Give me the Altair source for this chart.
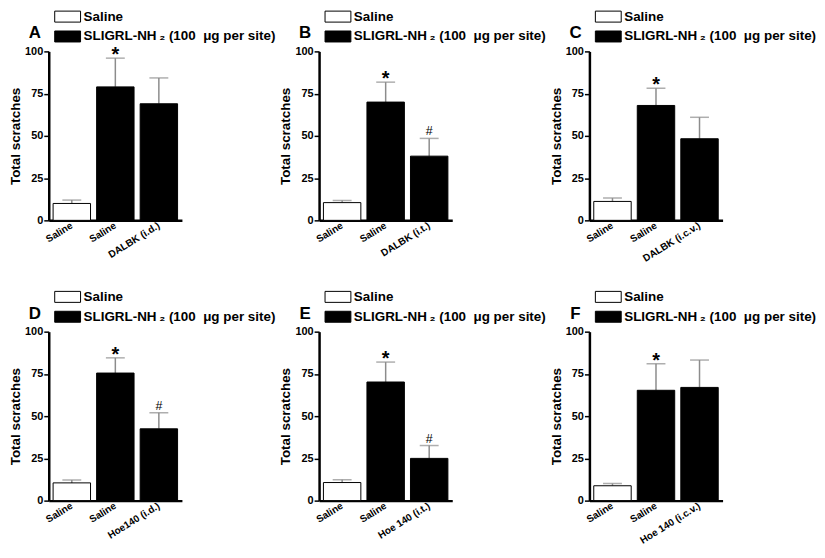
import altair as alt
import pandas as pd

FONT = "Liberation Sans"
SALINE = "Saline"
SLIG = "SLIGRL-NH\u2009\u2082 (100\u00a0 \u03bcg per site)"

panel_letters = ["A", "B", "C", "D", "E", "F"]
x_labels = [
    ["Saline", "Saline", "DALBK (i.d.)"],
    ["Saline", "Saline", "DALBK (i.t.)"],
    ["Saline", "Saline", "DALBK (i.c.v.)"],
    ["Saline", "Saline", "Hoe140 (i.d.)"],
    ["Saline", "Saline", "Hoe 140 (i.t.)"],
    ["Saline", "Saline", "Hoe 140 (i.c.v.)"],
]
means = [
    [10.0, 79.0, 69.0],
    [10.5, 70.0, 38.0],
    [11.2, 68.0, 48.3],
    [10.5, 75.5, 42.5],
    [10.7, 70.2, 25.0],
    [8.8, 65.3, 67.0],
]
upper = [
    [12.0, 96.0, 84.3],
    [11.8, 81.8, 48.5],
    [13.2, 78.2, 61.0],
    [12.2, 84.5, 52.0],
    [12.3, 82.0, 32.6],
    [10.1, 81.0, 83.2],
]
sig = [
    ["", "*", ""],
    ["", "*", "#"],
    ["", "*", ""],
    ["", "*", "#"],
    ["", "*", "#"],
    ["", "*", ""],
]
treat = [SALINE, SLIG, SLIG]
keys = ["0", "1", "2"]

ERR = "#8c8c8c"


def label_expr(labels):
    return (f"datum.value == '0' ? '{labels[0]}' : "
            f"datum.value == '1' ? '{labels[1]}' : '{labels[2]}'")


def panel(i):
    df = pd.DataFrame({
        "key": keys,
        "mean": means[i],
        "upper": upper[i],
        "treat": treat,
        "sig": sig[i],
    })
    base = alt.Chart(df)
    x = alt.X(
        "key:N", sort=None,
        scale=alt.Scale(paddingInner=0.14, paddingOuter=0.1),
        axis=alt.Axis(
            title=None, labelExpr=label_expr(x_labels[i]), labelAngle=-32,
            labelAlign="right", labelBaseline="middle", labelPadding=4,
            ticks=False, domainWidth=2.5, domainColor="black",
            labelFontSize=10, labelFontWeight="bold", labelColor="black",
            labelFont=FONT,
        ),
    )
    y = alt.Y(
        "mean:Q",
        scale=alt.Scale(domain=[0, 100]),
        axis=alt.Axis(
            values=[0, 25, 50, 75, 100], title="Total scratches", grid=False,
            domainWidth=2.5, domainColor="black", tickColor="black",
            tickWidth=1.5, tickSize=5, labelFontSize=11, labelFontWeight="bold",
            labelColor="black", labelPadding=1, labelFont=FONT,
            titleFontSize=13.5, titleFontWeight="bold", titleColor="black",
            titlePadding=2, titleFont=FONT,
        ),
    )
    err = base.mark_rule(color=ERR, strokeWidth=1.5).encode(
        x=x, y="mean:Q", y2="upper:Q")
    cap = base.mark_tick(color=ERR, thickness=1.5, size=19).encode(
        x=x, y="upper:Q")
    bars = base.mark_bar(stroke="black", strokeWidth=1).encode(
        x=x, y=y,
        fill=alt.Fill(
            "treat:N",
            scale=alt.Scale(domain=[SALINE, SLIG], range=["white", "black"]),
            legend=alt.Legend(
                title=None, orient="none", legendX=12, legendY=-42,
                symbolType="M-2,-0.85H2V0.85H-2Z", symbolSize=169,
                symbolStrokeColor="black", symbolStrokeWidth=1,
                labelFontSize=13.5, labelFontWeight="bold",
                labelColor="black", labelFont=FONT, labelOffset=9,
                labelLimit=400, rowPadding=4,
            ),
        ),
    )
    star = base.transform_filter("datum.sig == '*'").mark_text(
        fontSize=20, fontWeight="bold", baseline="alphabetic", dy=3,
        font=FONT, color="black").encode(x=x, y="upper:Q", text="sig:N")
    hashm = base.transform_filter("datum.sig == '#'").mark_text(
        fontSize=12.5, baseline="alphabetic", dy=-3,
        font=FONT, color="black").encode(x=x, y="upper:Q", text="sig:N")
    letter = alt.Chart(pd.DataFrame({"letter": [panel_letters[i]]})).mark_text(
        fontSize=17, fontWeight="bold", align="center", baseline="alphabetic",
        font=FONT, color="black").encode(
        text="letter:N", x=alt.value(-14), y=alt.value(-13))
    return alt.layer(err, cap, bars, star, hashm, letter).properties(
        width=134, height=170)


chart = alt.concat(
    *[panel(i) for i in range(6)],
    columns=3,
    spacing={"row": 112, "column": 138},
    bounds="flush",
).resolve_scale(fill="independent").resolve_legend(fill="independent").properties(
    padding={"left": 0, "top": 0, "right": 0, "bottom": 0}
).configure(font=FONT).configure_view(stroke=None)

chart.save("out.html", embed_options={"renderer": "svg", "actions": False})
